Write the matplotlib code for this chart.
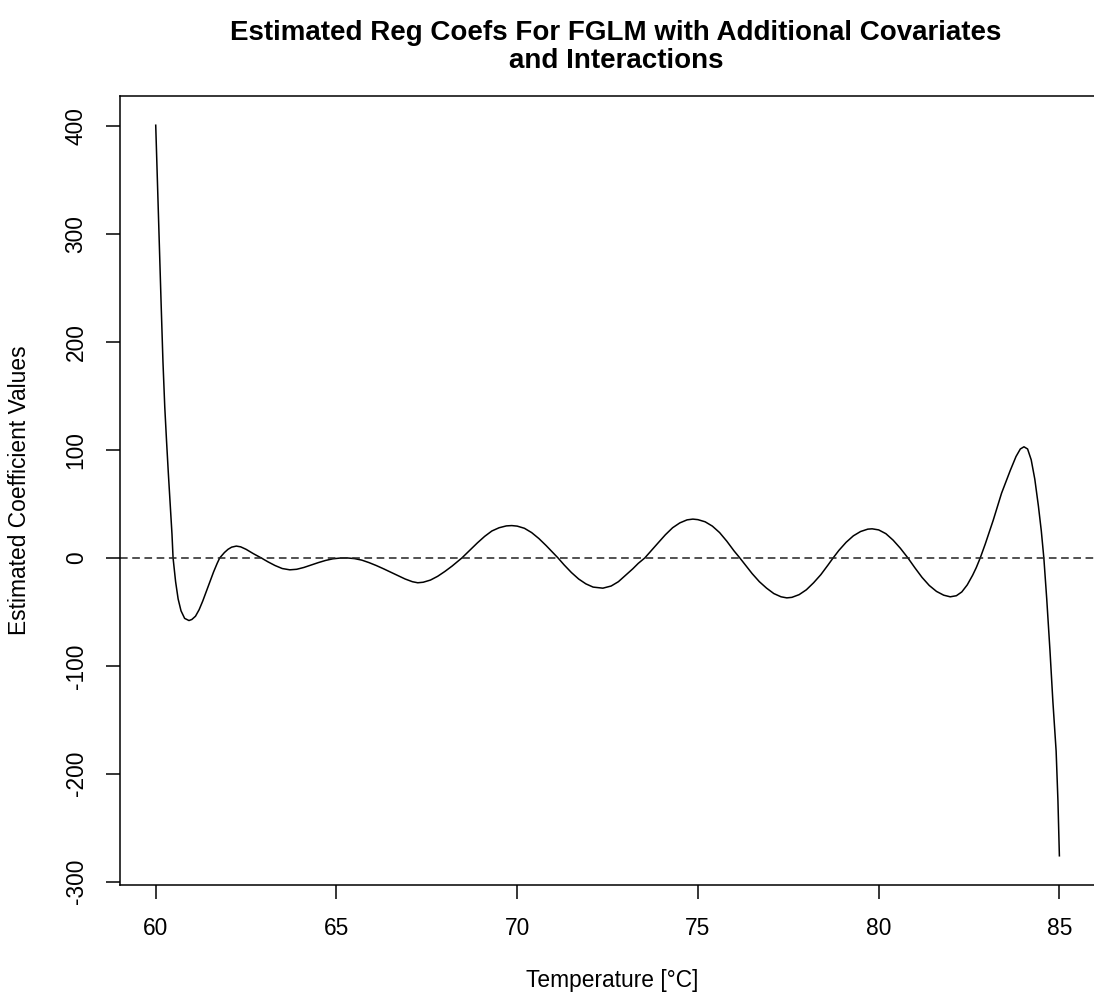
import matplotlib
matplotlib.use("Agg")
import matplotlib.pyplot as plt

plt.rcParams['font.family'] = ['Liberation Sans', 'DejaVu Sans']
plt.rcParams['axes.unicode_minus'] = False

# temperature grid and estimated coefficient curve
temperature = [60.0, 60.05, 60.1, 60.15, 60.2, 60.25, 60.3, 60.35, 60.4, 60.45,
               60.48, 60.55, 60.62, 60.7, 60.8, 60.92, 61.0, 61.1, 61.2, 61.3,
               61.4, 61.5, 61.6, 61.7, 61.77, 61.9, 62.0, 62.1, 62.23, 62.35,
               62.5, 62.7, 62.92, 63.1, 63.3, 63.5, 63.71, 63.9, 64.1, 64.3,
               64.5, 64.7, 64.9, 65.1, 65.3, 65.5, 65.7, 65.9, 66.1, 66.3,
               66.5, 66.7, 66.9, 67.1, 67.25, 67.4, 67.6, 67.8, 68.0, 68.2,
               68.47, 68.7, 68.9, 69.1, 69.3, 69.5, 69.7, 69.85, 70.0, 70.2,
               70.4, 70.6, 70.8, 71.0, 71.13, 71.3, 71.5, 71.7, 71.9, 72.1,
               72.37, 72.6, 72.8, 73.0, 73.2, 73.35, 73.53, 73.7, 73.9, 74.1,
               74.3, 74.5, 74.7, 74.86, 75.0, 75.2, 75.4, 75.6, 75.8, 76.0,
               76.16, 76.3, 76.5, 76.7, 76.9, 77.1, 77.3, 77.46, 77.6, 77.8,
               78.0, 78.2, 78.4, 78.6, 78.74, 78.9, 79.1, 79.3, 79.5, 79.7,
               79.82, 80.0, 80.2, 80.4, 80.6, 80.81, 81.0, 81.2, 81.4, 81.6,
               81.8, 81.98, 82.15, 82.3, 82.45, 82.6, 82.7, 82.81, 82.95, 83.17,
               83.4, 83.64, 83.8, 83.92, 84.02, 84.12, 84.22, 84.32, 84.42, 84.5,
               84.57, 84.65, 84.74, 84.82, 84.91, 84.96, 85.0]
coef = [401, 345, 290, 235, 182, 140, 108, 78, 50, 22,
        0, -22, -38, -49, -56, -58, -57, -54, -48, -40,
        -31, -22, -13, -5, 0, 5, 8, 10, 11, 10.3,
        8, 4, 0, -3.5, -7, -9.8, -11, -10.5, -8.8, -6.5,
        -4.3, -2.3, -0.8, -0.1, 0, -0.6, -2, -4.3, -7, -10,
        -13.2, -16.5, -19.5, -22, -23, -22.5, -20.5, -17, -12.5, -7.5,
        0, 7.5, 14, 20, 25, 28, 29.7, 30, 29.5, 27.5,
        23.5, 18, 11.5, 4.5, 0, -6.5, -13.5, -19.5, -24, -27,
        -28, -26, -22, -16, -10, -5, 0, 6.5, 14, 21.5,
        28, 32.5, 35.3, 36, 35.5, 33.5, 29.5, 23.5, 15.5, 6.5,
        0, -6, -14.5, -22, -28, -33, -36, -37, -36.5, -34,
        -29.5, -23, -15.5, -6.5, 0, 7, 14.5, 20.5, 24.5, 26.7,
        27, 26, 22.5, 16.5, 9, 0, -9, -18, -25.5, -31,
        -34.5, -36, -35, -31.5, -25, -16, -9, 0, 13, 35,
        60, 81, 94, 101, 103, 101, 91, 73, 48, 25,
        0, -38, -86, -133, -179, -225, -276]

x_ticks = [60, 65, 70, 75, 80, 85]
y_ticks = [-300, -200, -100, 0, 100, 200, 300, 400]

fig = plt.figure(figsize=(10.94, 9.99), dpi=100)
ax = fig.add_axes([0.1093, 0.1141, 0.8921, 0.7898])

ax.plot(temperature, coef, color='black', lw=1.1)
ax.axhline(0, color='#222222', lw=1.1, linestyle=(0, (5, 3)))

# R-style 4% padding around the data range
ax.set_xlim(59, 86)
lo, hi = min(coef), max(coef)
pad = 0.04 * (hi - lo)
ax.set_ylim(lo - pad, hi + pad)

ax.set_xticks(x_ticks)
ax.set_yticks(y_ticks)
ax.tick_params(direction='out', length=10, width=1.1, labelsize=16.4, pad=13,
               colors='black')
for lab in ax.get_yticklabels():
    lab.set_rotation(90)
    lab.set_verticalalignment('center')
for sp in ax.spines.values():
    sp.set_linewidth(1.1)

ax.set_xlabel('Temperature [°C]', fontsize=16.4)
ax.xaxis.set_label_coords(0.505, -0.107)
ax.set_ylabel('Estimated Coefficient Values', fontsize=16.4, labelpad=24)
ax.set_title('Estimated Reg Coefs For FGLM with Additional Covariates\nand Interactions',
             fontsize=20, fontweight='bold', pad=20.5, linespacing=1.1)
ax.title.set_x(0.5085)

fig.savefig('out.png', dpi=100)
